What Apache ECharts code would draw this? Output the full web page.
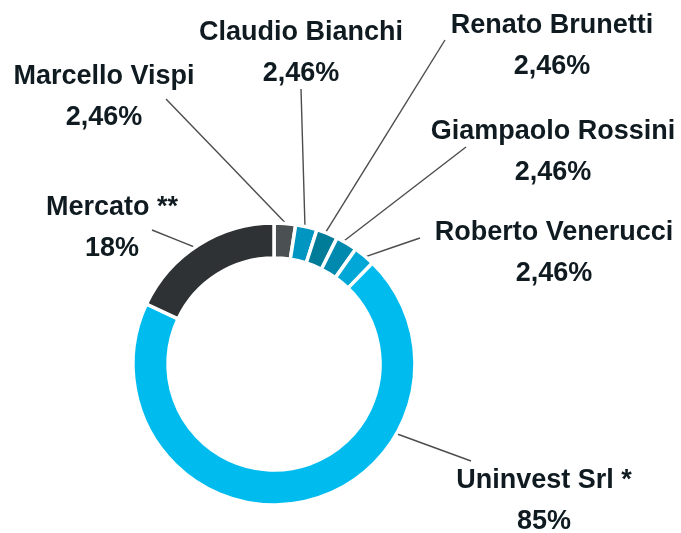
<!DOCTYPE html>
<html>
<head>
<meta charset="utf-8">
<script src="https://cdn.jsdelivr.net/npm/echarts@6/dist/echarts.min.js"></script>
<style>
  html, body { margin: 0; padding: 0; background: #fff; }
  #main { width: 681px; height: 533px; }
</style>
</head>
<body>
<div id="main"></div>
<script>
// soci, in senso orario partendo dalle ore 12
var names = ['Marcello Vispi', 'Claudio Bianchi', 'Renato Brunetti', 'Giampaolo Rossini', 'Roberto Venerucci', 'Uninvest Srl *', 'Mercato **'];
var shares = [2.46, 2.46, 2.46, 2.46, 2.46, 69.7, 18];
var shareLabels = ['2,46%', '2,46%', '2,46%', '2,46%', '2,46%', '85%', '18%'];
var colors = ['#4b5152', '#0096c1', '#007b98', '#0089ae', '#00a7d7', '#00bcee', '#2e3234'];

// posizione etichette (centro) e linee guida
var labelPos = [[104, 97], [301, 53], [552, 46], [553, 152], [554, 253], [544, 501], [112, 228]];
var lineEnd = [[166, 99], [301, 89], [445, 40], [466, 147], [420, 238], [471, 461], [152, 230]];
var anchor = [[5.8, 139], [12.9, 139], [21.3, 140], [28.8, 137], [40.2, 140], [120, 136], [329.6, 129]]; // gradi, raggio

var cx = 274, cy = 364;

var chart = echarts.init(document.getElementById('main'));

chart.setOption({
    animation: false,
    backgroundColor: '#fff',
    series: [{
        type: 'pie',
        center: [cx, cy],
        radius: [106, 141],
        startAngle: 90,
        clockwise: true,
        avoidLabelOverlap: false,
        itemStyle: {
            borderColor: '#fff',
            borderWidth: 3.5
        },
        label: {
            show: true,
            formatter: function (p) {
                return p.name + '\n' + shareLabels[p.dataIndex];
            },
            fontFamily: '"Liberation Sans", Arial, sans-serif',
            fontWeight: 'bold',
            fontSize: 27,
            lineHeight: 41,
            color: '#0f1b21',
            align: 'center'
        },
        labelLine: {
            show: true,
            lineStyle: { color: '#4d4d4d', width: 1.4 }
        },
        labelLayout: function (params) {
            var i = params.dataIndex;
            var a = anchor[i][0] * Math.PI / 180;
            var p0 = [cx + anchor[i][1] * Math.sin(a), cy - anchor[i][1] * Math.cos(a)];
            var p2 = lineEnd[i];
            return {
                x: labelPos[i][0],
                y: labelPos[i][1],
                align: 'center',
                verticalAlign: 'middle',
                labelLinePoints: [p0, [(p0[0] + p2[0]) / 2, (p0[1] + p2[1]) / 2], p2]
            };
        },
        data: names.map(function (n, i) {
            return { name: n, value: shares[i], itemStyle: { color: colors[i] } };
        })
    }]
});
</script>
</body>
</html>
